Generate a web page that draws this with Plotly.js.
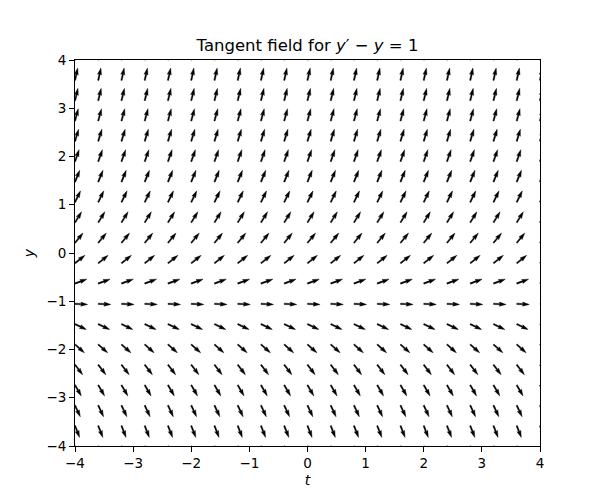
<!DOCTYPE html>
<html>
<head>
<meta charset="utf-8">
<script src="https://cdn.plot.ly/plotly-3.0.1.min.js"></script>
<style>
  html, body { margin: 0; padding: 0; background: #ffffff; }
  #chart { width: 600px; height: 500px; }
</style>
</head>
<body>
<div id="chart"></div>
<script>
// Grid of the tangent field (t along x, y along y)
var tValues = [-4, -3.6, -3.2, -2.8, -2.4, -2, -1.6, -1.2, -0.8, -0.4, 0, 0.4, 0.8, 1.2, 1.6, 2, 2.4, 2.8, 3.2, 3.6, 4];
var yValues = [-4, -3.579, -3.158, -2.737, -2.316, -1.895, -1.474, -1.053, -0.632, -0.211,
               0.211, 0.632, 1.053, 1.474, 1.895, 2.316, 2.737, 3.158, 3.579, 4];
// Slope dy/dt for each row of yValues (y' = y + 1)
var slopes = [-3, -2.579, -2.158, -1.737, -1.316, -0.895, -0.474, -0.053, 0.368, 0.789,
              1.211, 1.632, 2.053, 2.474, 2.895, 3.316, 3.737, 4.158, 4.579, 5];
var tickVals = [-4, -3, -2, -1, 0, 1, 2, 3, 4];

// Layout geometry
var W = 600, H = 500;
var M = {l: 75, r: 60, t: 60, b: 54};
var plotW = W - M.l - M.r, plotH = H - M.t - M.b;
var xRange = [-4, 4], yRange = [-4, 4];
var pxX = plotW / (xRange[1] - xRange[0]);
var pxY = plotH / (yRange[1] - yRange[0]);

// Arrow shape in pixels (matplotlib quiver defaults)
var nArrows = tValues.length * yValues.length;
var sn = Math.min(25, Math.max(8, Math.sqrt(nArrows)));
var shaftW = 0.06 * plotW / sn;
var L = plotW / (1.8 * sn);
var headLen = 5 * shaftW, headAxis = 4.5 * shaftW, headW = 3 * shaftW;
var shape = [
  [0, 0.5 * shaftW], [L - headAxis, 0.5 * shaftW], [L - headLen, 0.5 * headW], [L, 0],
  [L - headLen, -0.5 * headW], [L - headAxis, -0.5 * shaftW], [0, -0.5 * shaftW], [0, 0.5 * shaftW]
];

var ax = [], ay = [];
for (var j = 0; j < yValues.length; j++) {
  var th = Math.atan(slopes[j]);
  var c = Math.cos(th), s = Math.sin(th);
  for (var i = 0; i < tValues.length; i++) {
    for (var k = 0; k < shape.length; k++) {
      var px = shape[k][0], py = shape[k][1];
      var rx = px * c - py * s;
      var ry = px * s + py * c;
      ax.push(tValues[i] + rx / pxX);
      ay.push(yValues[j] + ry / pxY);
    }
    ax.push(null); ay.push(null);
  }
}

var trace = {
  x: ax, y: ay,
  type: 'scatter', mode: 'lines',
  fill: 'toself', fillcolor: '#000000',
  line: {color: '#000000', width: 0.4},
  hoverinfo: 'skip', showlegend: false
};

var axisCommon = {
  showgrid: false, zeroline: false,
  showline: true, linecolor: '#000000', linewidth: 1, mirror: true,
  ticks: 'outside', ticklen: 5, tickwidth: 1, tickcolor: '#000000',
  tickfont: {family: 'DejaVu Sans', size: 13.5, color: '#000000'},
  tickmode: 'array', tickvals: tickVals
};

var layout = {
  width: W, height: H,
  margin: M,
  paper_bgcolor: '#ffffff', plot_bgcolor: '#ffffff',
  title: {
    text: 'Tangent field for <i>y</i>′ − <i>y</i> = 1',
    font: {family: 'DejaVu Sans', size: 16.5, color: '#000000'},
    x: 0.5, xref: 'paper', xanchor: 'center',
    y: 1 - 45 / H, yref: 'container', yanchor: 'middle'
  },
  xaxis: Object.assign({}, axisCommon, {
    range: xRange,
    title: {text: '<i>t</i>', font: {family: 'DejaVu Sans', size: 14, color: '#000000'}, standoff: 4}
  }),
  yaxis: Object.assign({}, axisCommon, {
    range: yRange,
    title: {text: '<i>y</i>', font: {family: 'DejaVu Sans', size: 14, color: '#000000'}, standoff: 8}
  })
};

Plotly.newPlot('chart', [trace], layout, {displayModeBar: false, staticPlot: true});
</script>
</body>
</html>
